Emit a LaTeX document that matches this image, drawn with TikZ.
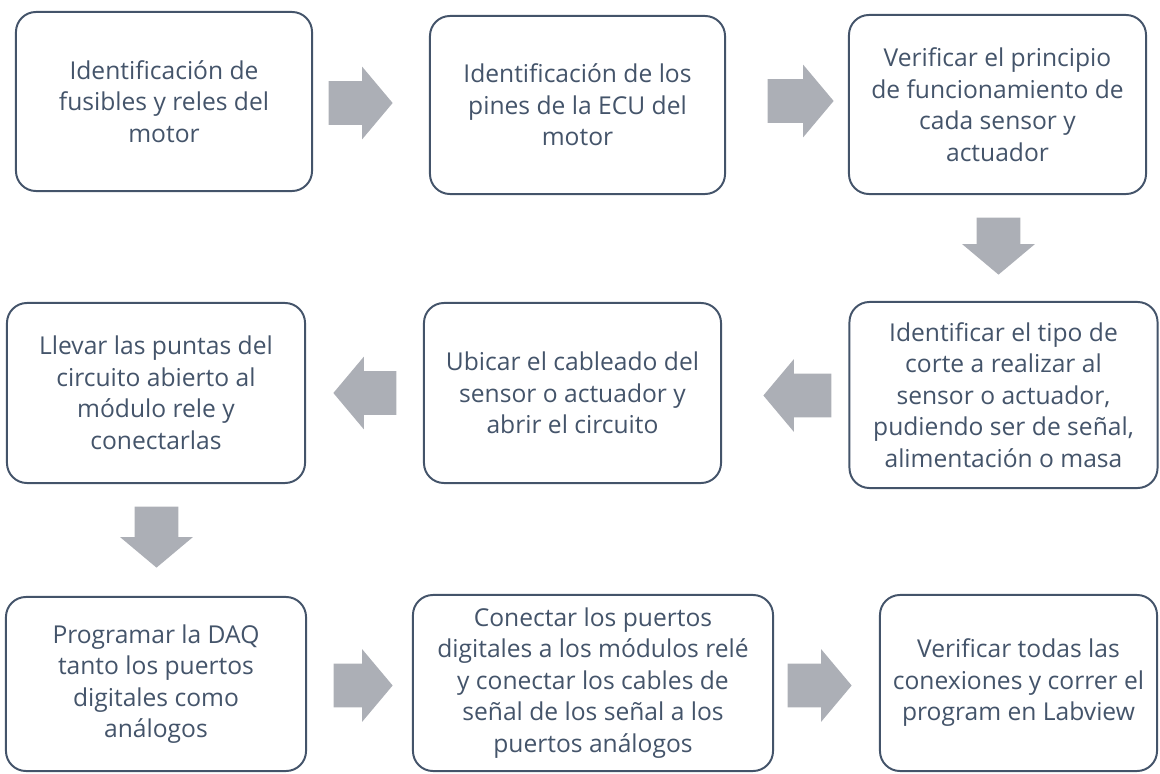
\documentclass[tikz,border=0pt]{standalone}
\usepackage{fontspec}
\setmainfont{Open Sans}
\usepackage{tikz}
\usetikzlibrary{shapes.arrows}

\definecolor{bordeazul}{RGB}{68,84,106}
\definecolor{flechagris}{RGB}{172,175,182}

\tikzset{
  paso/.style={draw=bordeazul, line width=1.4pt, rounded corners=0.5cm, fill=white,
    text=bordeazul, align=center, inner sep=2pt,
    font=\fontsize{17.5}{22.4}\selectfont},
  flecha/.style={single arrow, fill=flechagris, draw=none, anchor=tip,
    inner xsep=0pt, inner ysep=0.5375cm,
    minimum width=1.8cm, single arrow head extend=0.3625cm,
    single arrow tip angle=100},
  flechaabajo/.style={flecha, shape border rotate=270,
    inner xsep=0.5375cm, inner ysep=0pt}
}

\begin{document}
\begin{tikzpicture}[x=0.025cm, y=-0.025cm]
\useasboundingbox (0,0) rectangle (1160,774);
% primera fila
\node [ paso, minimum width=7.4cm, minimum height=4.475cm ] (fusibles) at (164,101.5)
  {Identificación de\\fusibles y reles del\\motor};
\node [ paso, minimum width=7.375cm, minimum height=4.45cm ] (pines) at (577.5,105)
  {Identificación de los\\pines de la ECU del\\motor};
\node [ paso, minimum width=7.425cm, minimum height=4.475cm ] (principio) at (997.5,104.5)
  {Verificar el principio\\de funcionamiento de\\cada sensor y\\actuador};
% segunda fila
\node [ paso, minimum width=7.7cm, minimum height=4.65cm ] (corte) at (1003.5,395)
  {Identificar el tipo de\\corte a realizar al\\sensor o actuador,\\pudiendo ser de señal,\\alimentación o masa};
\node [ paso, minimum width=7.425cm, minimum height=4.5cm ] (cableado) at (572.5,393)
  {Ubicar el cableado del\\sensor o actuador y\\abrir el circuito};
\node [ paso, minimum width=7.45cm, minimum height=4.5cm ] (puntas) at (156,393)
  {Llevar las puntas del\\circuito abierto al\\módulo rele y\\conectarlas};
% tercera fila
\node [ paso, minimum width=7.5cm, minimum height=4.35cm ] (daq) at (156,684)
  {Programar la DAQ\\tanto los puertos\\digitales como\\análogos};
\node [ paso, minimum width=9cm, minimum height=4.4cm ] (puertos) at (593,683)
  {Conectar los puertos\\digitales a los módulos relé\\y conectar los cables de\\señal de los señal a los\\puertos análogos};
\node [ paso, minimum width=6.925cm, minimum height=4.4cm ] (labview) at (1018.5,683)
  {Verificar todas las\\conexiones y correr el\\program en Labview};
% flechas (colocadas por la punta)
\node [ flecha, minimum height=1.6cm ] (f1) at (393,103) {};
\node [ flecha, minimum height=1.65cm ] (f2) at (834,101) {};
\node [ flechaabajo, minimum height=1.425cm ] (f3) at (998.5,275) {};
\node [ flecha, minimum height=1.7cm, shape border rotate=180 ] (f4) at (763,395.5) {};
\node [ flecha, minimum height=1.575cm, shape border rotate=180 ] (f5) at (333,393) {};
\node [ flechaabajo, minimum height=1.525cm ] (f6) at (156.5,568) {};
\node [ flecha, minimum height=1.475cm ] (f7) at (393,685.5) {};
\node [ flecha, minimum height=1.6cm ] (f8) at (852,685.5) {};
\end{tikzpicture}
\end{document}
